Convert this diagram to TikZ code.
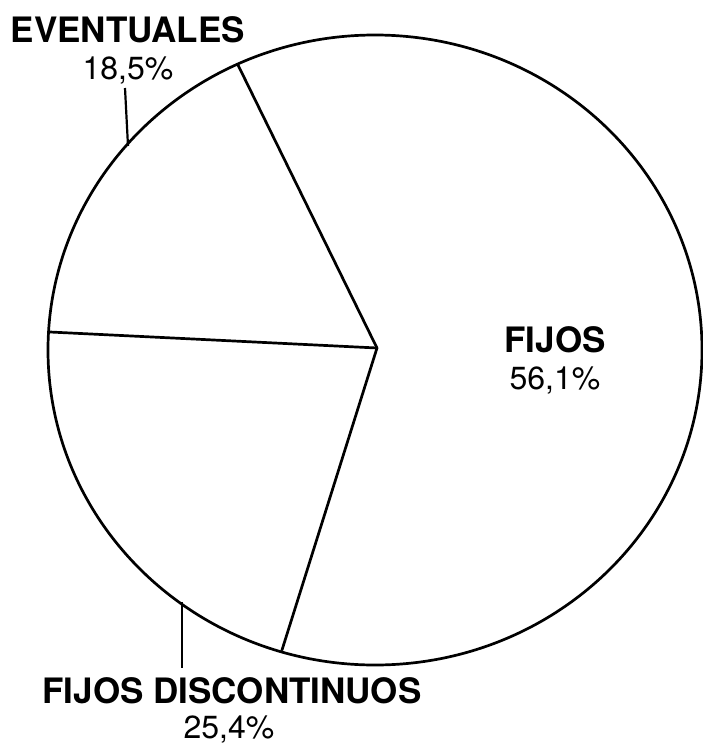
\documentclass[tikz,border=0pt]{standalone}
\usepackage{fontspec}
\setmainfont{TeX Gyre Heros}
\usetikzlibrary{positioning, shapes}

\begin{document}
\begin{tikzpicture}[
        x=1pt, y=-1pt,
        % Styles
        pie/.style={% For the outer ring of the chart
            ellipse,
            draw,
            line width=2.7pt,
            inner sep=0pt,
            minimum width=654pt,
            minimum height=630pt,
            },
        spoke/.style={% For the lines between the slices
            line width=2.7pt,
            line cap=round,
            },
        leader/.style={% For the short label lines
            line width=2.2pt,
            },
        title/.style={% For the slice names
            font=\fontsize{35}{40}\selectfont\bfseries,
            anchor=base,
            inner sep=0pt,
            },
        share/.style={% For the percentages
            font=\fontsize{32}{38}\selectfont,
            anchor=base,
            inner sep=0pt,
            },
        ]
    \useasboundingbox (0,0) rectangle (703,744);

    % Nodes
        % Draw the chart outline:
        \node [pie] (ring) at (375,350) {};
        \coordinate (hub) at (377,348);

        % Draw the points where the spokes meet the ring
        \coordinate (edgetop) at (238,65);
        \coordinate (edgeleft) at (50,332);
        \coordinate (edgebottom) at (282,650);

        % Draw the labels named as basis title#, share#
        \node [title] (title1) at (128,42) {EVENTUALES};
        \node [share] (share1) at (128,79) {18,5\%};
        \node [title] (title2) at (555,352) {FIJOS};
        \node [share] (share2) at (555,389) {56,1\%};
        \node [title] (title3) at (232,703) {FIJOS DISCONTINUOS};
        \node [share] (share3) at (229,738) {25,4\%};

        % Ends of the leader lines
        \coordinate (lead1a) at (125,88);
        \coordinate (lead1b) at (128,146);
        \coordinate (lead3a) at (182,602);
        \coordinate (lead3b) at (182,668);

    % Start connecting all.
        \draw [spoke] (hub) -- (edgetop);
        \draw [spoke] (hub) -- (edgeleft);
        \draw [spoke] (hub) -- (edgebottom);

        % Leaders
        \draw [leader] (lead1a) -- (lead1b);
        \draw [leader] (lead3a) -- (lead3b);

\end{tikzpicture}
\end{document}
